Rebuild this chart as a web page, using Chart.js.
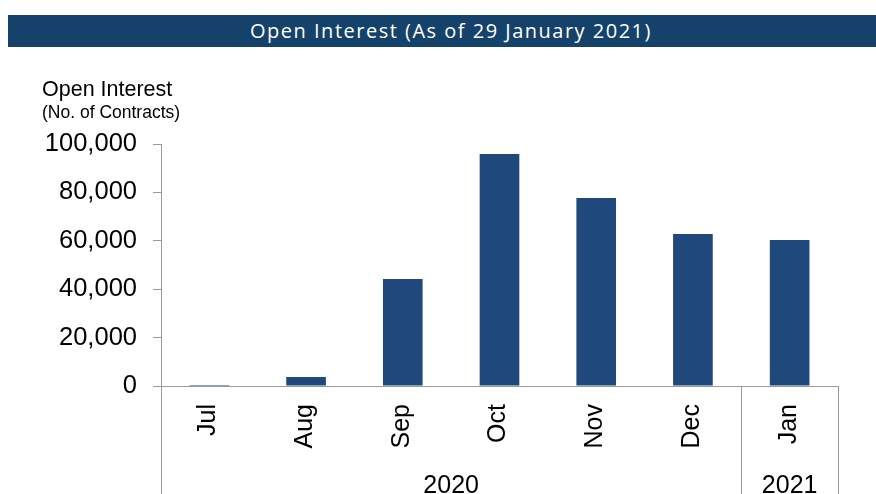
<!DOCTYPE html>
<html>
<head>
<meta charset="utf-8">
<script src="https://cdn.jsdelivr.net/npm/chart.js@4.4.1/dist/chart.umd.min.js"></script>
<style>
    html, body { margin: 0; padding: 0; background: #fff; }
    #wrap { position: relative; width: 876px; height: 494px; }
    #banner {
        position: absolute; left: 8px; top: 15px; width: 868px; height: 32px;
        background: #15426a; color: #fff;
        font-family: "Open Sans", sans-serif; font-size: 20px; letter-spacing: 1.5px;
        line-height: 31px; text-align: center; box-sizing: border-box; padding-left: 18px;
    }
    canvas { position: absolute; left: 0; top: 0; }
</style>
</head>
<body>
<div id="wrap">
    <canvas id="oiChart" width="876" height="494"></canvas>
    <div id="banner">Open Interest (As of 29 January 2021)</div>
</div>
<script>
// chart data
const months = ['Jul', 'Aug', 'Sep', 'Oct', 'Nov', 'Dec', 'Jan'];
const years = ['2020', '2020', '2020', '2020', '2020', '2020', '2021'];
const openInterest = [400, 3700, 44200, 95900, 77700, 62800, 60300];
const yMax = 100000;
const yStep = 20000;

const axisGrey = '#9a9a9a';
const labelFont = '25px "Liberation Sans", Arial, sans-serif';

// Draws the axis titles, rotated month labels and the year boxes under the x axis
const categoryBox = {
    id: 'categoryBox',
    afterDraw(chart) {
        const ctx = chart.ctx;
        const a = chart.chartArea;
        const x = chart.scales.x;
        const bottom = chart.height;
        ctx.save();

        // axis title (top left)
        ctx.fillStyle = '#000';
        ctx.textAlign = 'left';
        ctx.textBaseline = 'alphabetic';
        ctx.font = '21.5px "Liberation Sans", Arial, sans-serif';
        ctx.fillText('Open Interest', 42, 96);
        ctx.font = '17.5px "Liberation Sans", Arial, sans-serif';
        ctx.fillText('(No. of Contracts)', 42, 118);

        // box lines below the category axis
        ctx.strokeStyle = axisGrey;
        ctx.lineWidth = 1;
        const vline = (px) => {
            const xx = Math.round(px) + 0.5;
            ctx.beginPath();
            ctx.moveTo(xx, a.bottom);
            ctx.lineTo(xx, bottom);
            ctx.stroke();
        };
        vline(a.left - 0.5);
        vline(a.right - 0.5);

        // year groups
        let start = 0;
        for (let i = 1; i <= years.length; i++) {
            if (i === years.length || years[i] !== years[i - 1]) {
                const left = start === 0 ? a.left : (x.getPixelForValue(start - 1) + x.getPixelForValue(start)) / 2;
                const right = i === years.length ? a.right : (x.getPixelForValue(i - 1) + x.getPixelForValue(i)) / 2;
                if (i < years.length) vline(right);
                ctx.font = labelFont;
                ctx.textAlign = 'center';
                ctx.textBaseline = 'alphabetic';
                ctx.fillText(years[start], (left + right) / 2, 493);
                start = i;
            }
        }

        // month labels, reading bottom to top
        ctx.font = labelFont;
        ctx.textAlign = 'right';
        ctx.textBaseline = 'middle';
        months.forEach((m, i) => {
            ctx.save();
            ctx.translate(x.getPixelForValue(i) - 1, a.bottom + 18);
            ctx.rotate(-Math.PI / 2);
            ctx.fillText(m, 0, 0);
            ctx.restore();
        });

        ctx.restore();
    }
};

const ctx = document.getElementById('oiChart').getContext('2d');
new Chart(ctx, {
    type: 'bar',
    data: {
        labels: months,
        datasets: [{
            label: 'Open Interest',
            data: openInterest,
            backgroundColor: '#1f487c',
            borderWidth: 0,
            barPercentage: 0.41,
            categoryPercentage: 1.0
        }]
    },
    options: {
        responsive: false,
        animation: false,
        layout: { padding: { top: 144, right: 38, left: 0, bottom: 0 } },
        plugins: {
            legend: { display: false },
            tooltip: { enabled: false }
        },
        scales: {
            x: {
                grid: { display: false, drawTicks: false },
                border: { display: true, color: axisGrey, width: 1 },
                ticks: { display: false },
                afterFit: (scale) => { scale.height = 108; }
            },
            y: {
                min: 0,
                max: yMax,
                ticks: {
                    stepSize: yStep,
                    color: '#000',
                    padding: 16,
                    font: { family: '"Liberation Sans", Arial, sans-serif', size: 25.5 },
                    callback: (v) => v.toLocaleString('en-US')
                },
                grid: { drawOnChartArea: false, drawTicks: true, tickLength: 8, color: axisGrey },
                border: { display: true, color: axisGrey, width: 1 },
                afterFit: (scale) => { scale.width = 161; }
            }
        }
    },
    plugins: [categoryBox]
});
</script>
</body>
</html>
